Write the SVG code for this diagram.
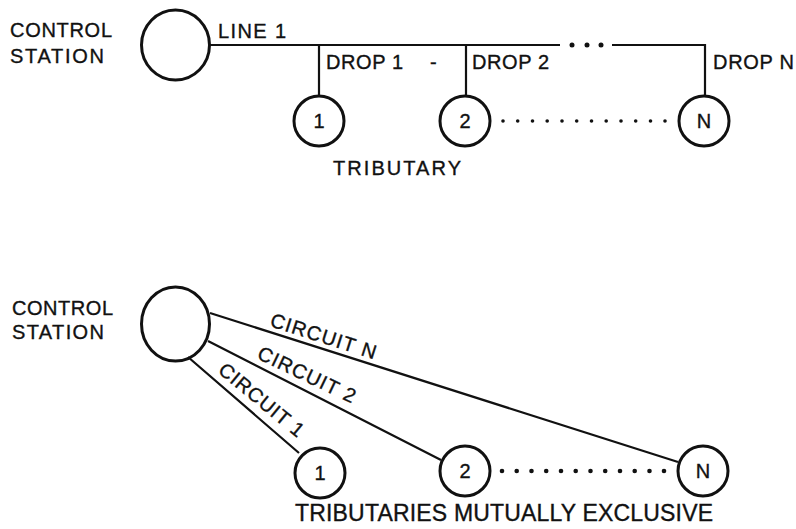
<svg xmlns="http://www.w3.org/2000/svg" width="796" height="529" viewBox="0 0 796 529">
<style>
text{font-family:"Liberation Sans",Arial,sans-serif;font-size:20px;fill:#111;stroke:#111;stroke-width:0.35}
.big{font-size:23px}
.num{text-anchor:middle}
.node{fill:none;stroke:#111;stroke-width:3}
.ln{fill:none;stroke:#111;stroke-width:2.2}
.dot{fill:#111}
</style>
<rect width="796" height="529" fill="#fff"/>
<!-- top: multipoint -->
<g id="cs-top">
<ellipse class="node" cx="175.5" cy="45" rx="34" ry="35"/>
<text x="10" y="37" textLength="102">CONTROL</text>
<text x="10" y="63" textLength="94">STATION</text>
</g>
<g id="trib1-top"><circle class="node" cx="319" cy="121" r="25"/><text class="num" x="319" y="128">1</text></g>
<g id="trib2-top"><circle class="node" cx="465" cy="121" r="25"/><text class="num" x="465" y="128">2</text></g>
<g id="tribN-top"><circle class="node" cx="704" cy="121" r="25"/><text class="num" x="704" y="128">N</text></g>
<g id="connectors-top">
<path class="ln" d="M209.5 45H560M612 45H705V96M319 45V96M466 45V96"/>
<circle class="dot" cx="572" cy="45" r="2.5"/><circle class="dot" cx="587" cy="45" r="2.5"/><circle class="dot" cx="601" cy="45" r="2.5"/>
<g class="dot">
<circle cx="503" cy="121" r="1.8"/><circle cx="517.7" cy="121" r="1.8"/><circle cx="532.5" cy="121" r="1.8"/><circle cx="547.2" cy="121" r="1.8"/><circle cx="562" cy="121" r="1.8"/><circle cx="576.7" cy="121" r="1.8"/><circle cx="591.5" cy="121" r="1.8"/><circle cx="606.2" cy="121" r="1.8"/><circle cx="621" cy="121" r="1.8"/><circle cx="635.7" cy="121" r="1.8"/><circle cx="650.5" cy="121" r="1.8"/><circle cx="665" cy="121" r="1.8"/>
</g>
<text x="218" y="38" textLength="68">LINE 1</text>
<text x="326" y="69" textLength="77">DROP 1</text>
<text x="430" y="69">-</text>
<text x="472" y="69" textLength="77">DROP 2</text>
<text x="713" y="69" textLength="81">DROP N</text>
</g>
<text x="333" y="175" textLength="128">TRIBUTARY</text>
<!-- bottom: point to point -->
<g id="cs-bottom">
<ellipse class="node" cx="175.5" cy="324" rx="34" ry="37"/>
<text x="12" y="315" textLength="101">CONTROL</text>
<text x="12" y="339" textLength="92">STATION</text>
</g>
<g id="trib1-bottom"><circle class="node" cx="320" cy="473" r="25"/><text class="num" x="320" y="480">1</text></g>
<g id="trib2-bottom"><circle class="node" cx="465" cy="471" r="25"/><text class="num" x="465" y="478">2</text></g>
<g id="tribN-bottom"><circle class="node" cx="703" cy="471" r="25"/><text class="num" x="703" y="478">N</text></g>
<g id="connectors-bottom">
<path class="ln" d="M210 313L678 462M208 341L441 460M188 357L299 453"/>
<text transform="translate(269 326) rotate(17.7)" textLength="110">CIRCUIT N</text>
<text transform="translate(256 358) rotate(25.5)" textLength="106">CIRCUIT 2</text>
<text transform="translate(217 372) rotate(39.5)" textLength="104">CIRCUIT 1</text>
<g class="dot">
<circle cx="502" cy="471" r="2.3"/><circle cx="516.7" cy="471" r="2.3"/><circle cx="531.5" cy="471" r="2.3"/><circle cx="546.2" cy="471" r="2.3"/><circle cx="561" cy="471" r="2.3"/><circle cx="575.7" cy="471" r="2.3"/><circle cx="590.5" cy="471" r="2.3"/><circle cx="605.2" cy="471" r="2.3"/><circle cx="620" cy="471" r="2.3"/><circle cx="634.7" cy="471" r="2.3"/><circle cx="649.5" cy="471" r="2.3"/><circle cx="664" cy="471" r="2.3"/>
</g>
</g>
<text class="big" x="295" y="521" textLength="418">TRIBUTARIES MUTUALLY EXCLUSIVE</text>
</svg>
